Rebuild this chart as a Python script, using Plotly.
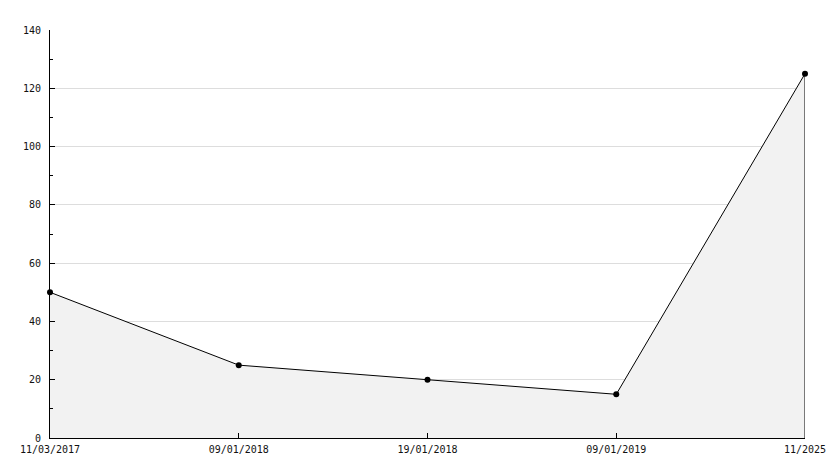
import plotly.graph_objects as go

dates = ["11/03/2017", "09/01/2018", "19/01/2018", "09/01/2019", "11/2025"]
values = [50, 25, 20, 15, 125]

fig = go.Figure()

fig.add_trace(go.Scatter(
    x=dates, y=values, mode="lines",
    fill="tozeroy", fillcolor="#f2f2f2",
    line=dict(color="black", width=1),
    hoverinfo="skip",
))
# closing edge of the filled area on the right
fig.add_trace(go.Scatter(
    x=[dates[-1], dates[-1]], y=[0, values[-1]], mode="lines",
    line=dict(color="black", width=1), hoverinfo="skip",
))
fig.add_trace(go.Scatter(
    x=dates, y=values, mode="markers",
    marker=dict(color="black", size=6, symbol="circle"),
    cliponaxis=False,
    hoverinfo="x+y",
))

fig.update_layout(
    width=834, height=468,
    margin=dict(l=50, r=29, t=30, b=30),
    paper_bgcolor="white", plot_bgcolor="white",
    showlegend=False,
    font=dict(family="DejaVu Sans Mono", size=10, color="#111111"),
)
fig.update_xaxes(
    type="category", categoryorder="array", categoryarray=dates,
    range=[0, 4], automargin=False,
    showline=True, linecolor="black", linewidth=1,
    ticks="inside", ticklen=5, tickcolor="black",
    ticklabelstandoff=2,
    showgrid=False, zeroline=False,
)
fig.update_yaxes(
    range=[0, 140], dtick=20, automargin=False,
    showline=True, linecolor="black", linewidth=1,
    ticks="inside", ticklen=5, tickcolor="black",
    ticklabelstandoff=6,
    gridcolor="#dddddd", zeroline=False,
    minor=dict(dtick=10, ticks="inside", ticklen=3, tickcolor="black", showgrid=False),
)

fig.write_html("out.html", config={"displayModeBar": False},
               post_script="document.body.style.margin='0';")
